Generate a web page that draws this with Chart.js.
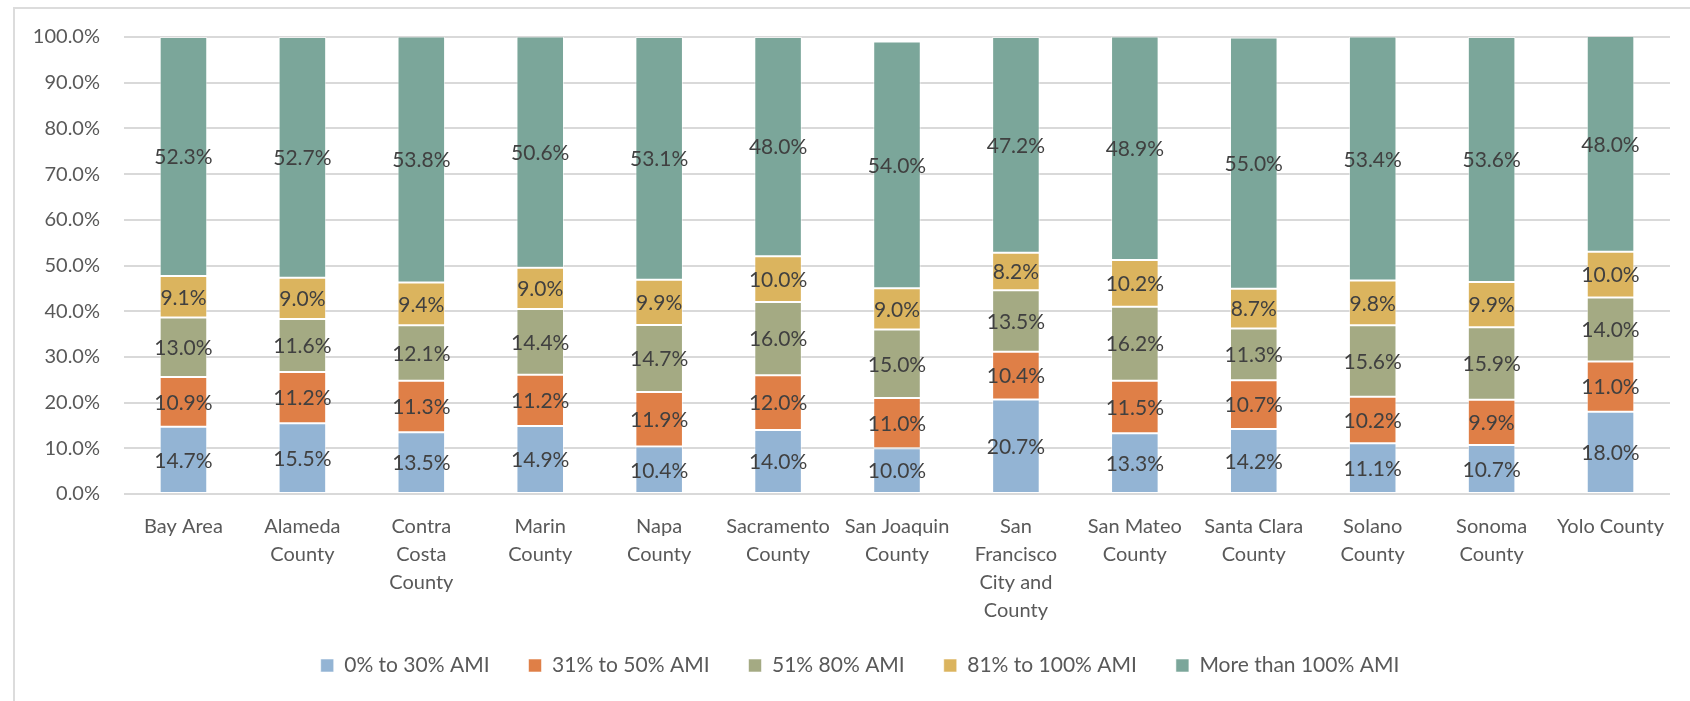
<!DOCTYPE html>
<html>
<head>
<meta charset="utf-8">
<script src="https://cdn.jsdelivr.net/npm/chart.js@4/dist/chart.umd.min.js"></script>
<style>
    html, body { margin: 0; padding: 0; background: #fff; overflow: hidden; }
    #frame { position: absolute; left: 13px; top: 7px; width: 1700px; height: 720px; border: 2px solid #dcdcdc; box-sizing: border-box; }
    #ami_chart { position: absolute; left: 0; top: 0; }
</style>
</head>
<body>
<div id="frame"></div>
<canvas id="ami_chart" width="1690" height="701"></canvas>
<script>
const regions = [
    'Bay Area',
    ['Alameda', 'County'],
    ['Contra', 'Costa', 'County'],
    ['Marin', 'County'],
    ['Napa', 'County'],
    ['Sacramento', 'County'],
    ['San Joaquin', 'County'],
    ['San', 'Francisco', 'City and', 'County'],
    ['San Mateo', 'County'],
    ['Santa Clara', 'County'],
    ['Solano', 'County'],
    ['Sonoma', 'County'],
    'Yolo County'
];
const ami_0_30    = [14.7, 15.5, 13.5, 14.9, 10.4, 14.0, 10.0, 20.7, 13.3, 14.2, 11.1, 10.7, 18.0];
const ami_31_50   = [10.9, 11.2, 11.3, 11.2, 11.9, 12.0, 11.0, 10.4, 11.5, 10.7, 10.2,  9.9, 11.0];
const ami_51_80   = [13.0, 11.6, 12.1, 14.4, 14.7, 16.0, 15.0, 13.5, 16.2, 11.3, 15.6, 15.9, 14.0];
const ami_81_100  = [ 9.1,  9.0,  9.4,  9.0,  9.9, 10.0,  9.0,  8.2, 10.2,  8.7,  9.8,  9.9, 10.0];
const ami_over100 = [52.3, 52.7, 53.8, 50.6, 53.1, 48.0, 54.0, 47.2, 48.9, 55.0, 53.4, 53.6, 48.0];
const y_ticks = [0, 10, 20, 30, 40, 50, 60, 70, 80, 90, 100];

const FONT = 'Lato, Carlito, Calibri, sans-serif';

// value labels centred in each stacked segment
const segmentLabels = {
    id: 'segmentLabels',
    afterDatasetsDraw(chart) {
        const ctx = chart.ctx;
        const area = chart.chartArea;
        ctx.save();
        ctx.font = '21px ' + FONT;
        ctx.fillStyle = '#404040';
        ctx.textAlign = 'center';
        ctx.textBaseline = 'middle';
        chart.data.datasets.forEach((ds, i) => {
            chart.getDatasetMeta(i).data.forEach((bar, j) => {
                let top = Math.max(bar.y, area.top);
                let bottom = Math.min(bar.base, area.bottom);
                ctx.fillText(ds.data[j].toFixed(1) + '%', bar.x, (top + bottom) / 2 + 1);
            });
        });
        ctx.restore();
    }
};

// move the legend row right of centre and up a bit into the axis gap
const legendShift = {
    id: 'legendShift',
    afterLayout(chart) {
        const lg = chart.legend;
        lg.left += 18;
        lg.right += 18;
        lg.top -= 10;
        lg.bottom -= 10;
    }
};

function series(label, data, color) {
    return {
        label: label,
        data: data,
        backgroundColor: color,
        borderColor: 'rgba(255,255,255,0.55)',
        borderWidth: 1,
        borderSkipped: false,
        categoryPercentage: 1.0,
        barPercentage: 0.4
    };
}

new Chart(document.getElementById('ami_chart'), {
    type: 'bar',
    data: {
        labels: regions,
        datasets: [
            series('0% to 30% AMI', ami_0_30, '#93b4d4'),
            series('31% to 50% AMI', ami_31_50, '#df7f47'),
            series('51% 80% AMI', ami_51_80, '#a4aa83'),
            series('81% to 100% AMI', ami_81_100, '#dbb45e'),
            series('More than 100% AMI', ami_over100, '#7ba69a')
        ]
    },
    options: {
        responsive: false,
        animation: false,
        layout: {
            padding: { left: 14, right: 20, top: 37, bottom: 5 }
        },
        scales: {
            x: {
                stacked: true,
                grid: { display: false, drawTicks: false },
                border: { display: false },
                ticks: {
                    color: '#595959',
                    font: { family: FONT, size: 20, lineHeight: 1.4 },
                    padding: 19,
                    maxRotation: 0,
                    autoSkip: false
                },
                afterFit: (scale) => { scale.height = 132; }
            },
            y: {
                stacked: true,
                min: 0,
                max: 100,
                afterBuildTicks: (scale) => { scale.ticks = y_ticks.map(v => ({ value: v })); },
                grid: { color: '#d9d9d9', lineWidth: 2, drawTicks: false },
                border: { display: false },
                ticks: {
                    color: '#595959',
                    font: { family: FONT, size: 20 },
                    padding: 24,
                    callback: (v) => v.toFixed(1) + '%'
                },
                afterFit: (scale) => { scale.width = 110; }
            }
        },
        plugins: {
            legend: {
                position: 'bottom',
                labels: {
                    color: '#595959',
                    font: { family: FONT, size: 21 },
                    boxWidth: 13,
                    boxHeight: 13,
                    padding: 39
                }
            },
            tooltip: { enabled: false }
        }
    },
    plugins: [segmentLabels, legendShift]
});
</script>
</body>
</html>
